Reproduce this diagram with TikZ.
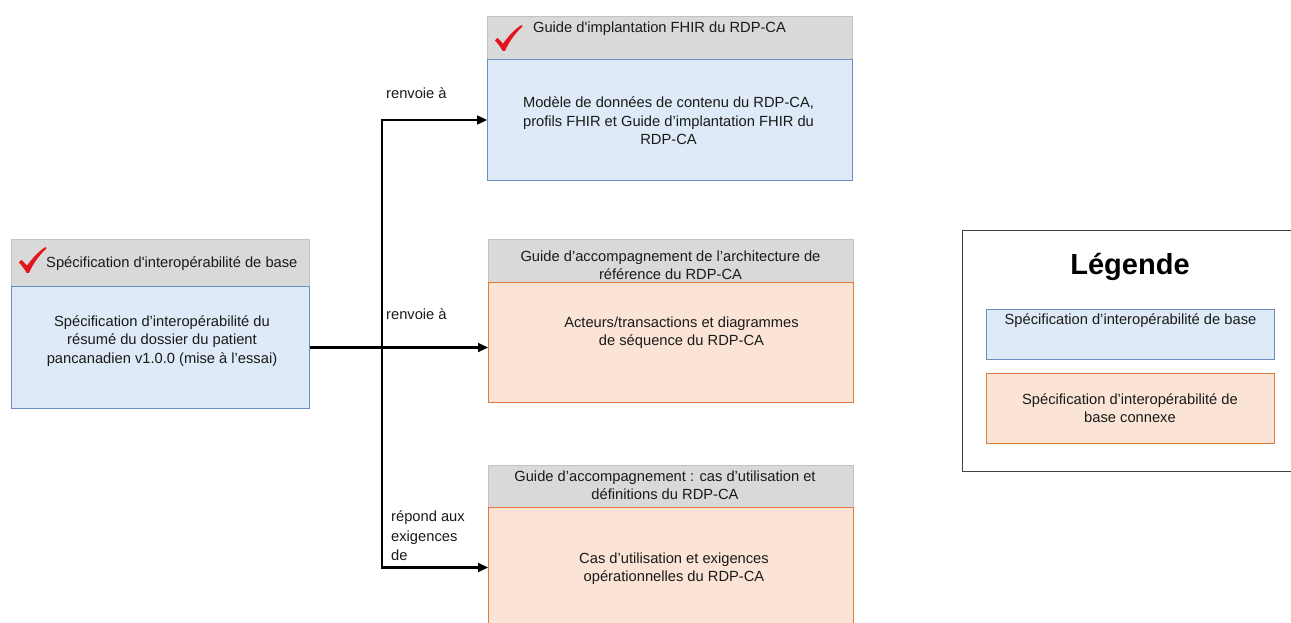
\documentclass[tikz,border=0pt]{standalone}
\usepackage{fontspec}
\setmainfont{Liberation Sans}
\usetikzlibrary{arrows.meta}
\definecolor{hdrfill}{HTML}{D9D9D9}
\definecolor{hdrline}{HTML}{C2C2C2}
\definecolor{bluefill}{HTML}{DEEAF7}
\definecolor{blueline}{HTML}{6C8EBF}
\definecolor{orfill}{HTML}{FBE4D6}
\definecolor{orline}{HTML}{DD7C3C}
\definecolor{chkred}{HTML}{E3141B}
\definecolor{txtcol}{HTML}{1A1A1A}
\begin{document}
\begin{tikzpicture}[x=1pt,y=-1pt,
  boxbase/.style={rectangle, anchor=north west, inner sep=0pt, line width=1pt},
  hdr/.style={boxbase, fill=hdrfill, draw=hdrline},
  bluebody/.style={boxbase, fill=bluefill, draw=blueline},
  orbody/.style={boxbase, fill=orfill, draw=orline},
  txt/.style={align=center, inner sep=0pt, text=txtcol, font=\fontsize{14.7}{18.4}\selectfont},
  lbl/.style={align=left, inner sep=0pt, text=txtcol, font=\fontsize{14.7}{19.5}\selectfont},
  conn/.style={line width=2.2pt, -{Triangle[length=10pt,width=9pt]}},
  chk/.pic={\fill[chkred] (0,15.5) .. controls (1,14) .. (2.5,12.8) -- (8,18.6) .. controls (14,10.5) and (20,4) .. (26.5,0) -- (27.5,1.4) .. controls (20,8.5) and (14.5,16) .. (10,25.8) -- (7.6,25.8) .. controls (5,21.5) and (2.5,18) .. cycle;}
]
\useasboundingbox (0,0) rectangle (1291,623);
\clip (0,0) rectangle (1291,623);

% left box
\node[hdr, minimum width=298pt, minimum height=47pt] (hL) at (11,239) {};
\node[bluebody, minimum width=298pt, minimum height=122pt] (bL) at (11,286) {};
\pic at (19,247) {chk};
\node[txt, anchor=west] (thL) at (46,264) {Spécification d\textquotesingle interopérabilité de base};
\node[txt] (tbL) at (162,341) {Spécification d’interopérabilité du\\résumé du dossier du patient\\pancanadien v1.0.0 (mise à l’essai)};

% top box
\node[hdr, minimum width=365pt, minimum height=43pt] (hT) at (487,16) {};
\node[bluebody, minimum width=365pt, minimum height=121pt] (bT) at (487,59) {};
\pic at (495,25) {chk};
\node[txt] (thT) at (659.5,29) {Guide d\textquotesingle implantation FHIR du RDP-CA};
\node[txt] (tbT) at (668.5,121) {Modèle de données de contenu du RDP-CA,\\profils FHIR et Guide d’implantation FHIR du\\RDP-CA};

% middle box
\node[hdr, minimum width=365pt, minimum height=43pt] (hM) at (488,239) {};
\node[orbody, minimum width=365pt, minimum height=120pt] (bM) at (488,282) {};
\node[txt] (thM) at (670.5,265) {Guide d’accompagnement de l’architecture de\\référence du RDP-CA};
\node[txt] (tbM) at (681.5,332.5) {Acteurs/transactions et diagrammes\\de séquence du RDP-CA};

% bottom box
\node[hdr, minimum width=365pt, minimum height=42pt] (hB) at (488,465) {};
\node[orbody, minimum width=365pt, minimum height=120pt] (bB) at (488,507) {};
\node[txt] (thB) at (665,485) {Guide d’accompagnement : cas d’utilisation et\\définitions du RDP-CA};
\node[txt] (tbB) at (674,568.5) {Cas d’utilisation et exigences\\opérationnelles du RDP-CA};

% connectors
\coordinate (J) at (382,347);
\draw[conn] (bL.east) -- (bM.west |- bL.east);
\draw[conn] (J) |- (bT.west);
\draw[conn] (J) |- (bB.west);
\node[lbl, anchor=west] (l1) at (386,93) {renvoie à};
\node[lbl, anchor=west] (l2) at (386,314) {renvoie à};
\node[lbl, anchor=west] (l3) at (391,536) {répond aux\\exigences\\de};

% legend
\node[boxbase, draw=black!75, fill=white, minimum width=340pt, minimum height=241pt] (leg) at (962,229.5) {};
\node[inner sep=0pt, font=\bfseries\fontsize{29}{34}\selectfont] (legT) at (1130,267) {Légende};
\node[bluebody, minimum width=288pt, minimum height=50pt] (legB) at (986,309) {};
\node[txt] (legBt) at (1130.5,321) {Spécification d’interopérabilité de base};
\node[orbody, minimum width=288pt, minimum height=70pt] (legO) at (986,373) {};
\node[txt] (legOt) at (1130,408) {Spécification d’interopérabilité de\\base connexe};
\end{tikzpicture}
\end{document}
